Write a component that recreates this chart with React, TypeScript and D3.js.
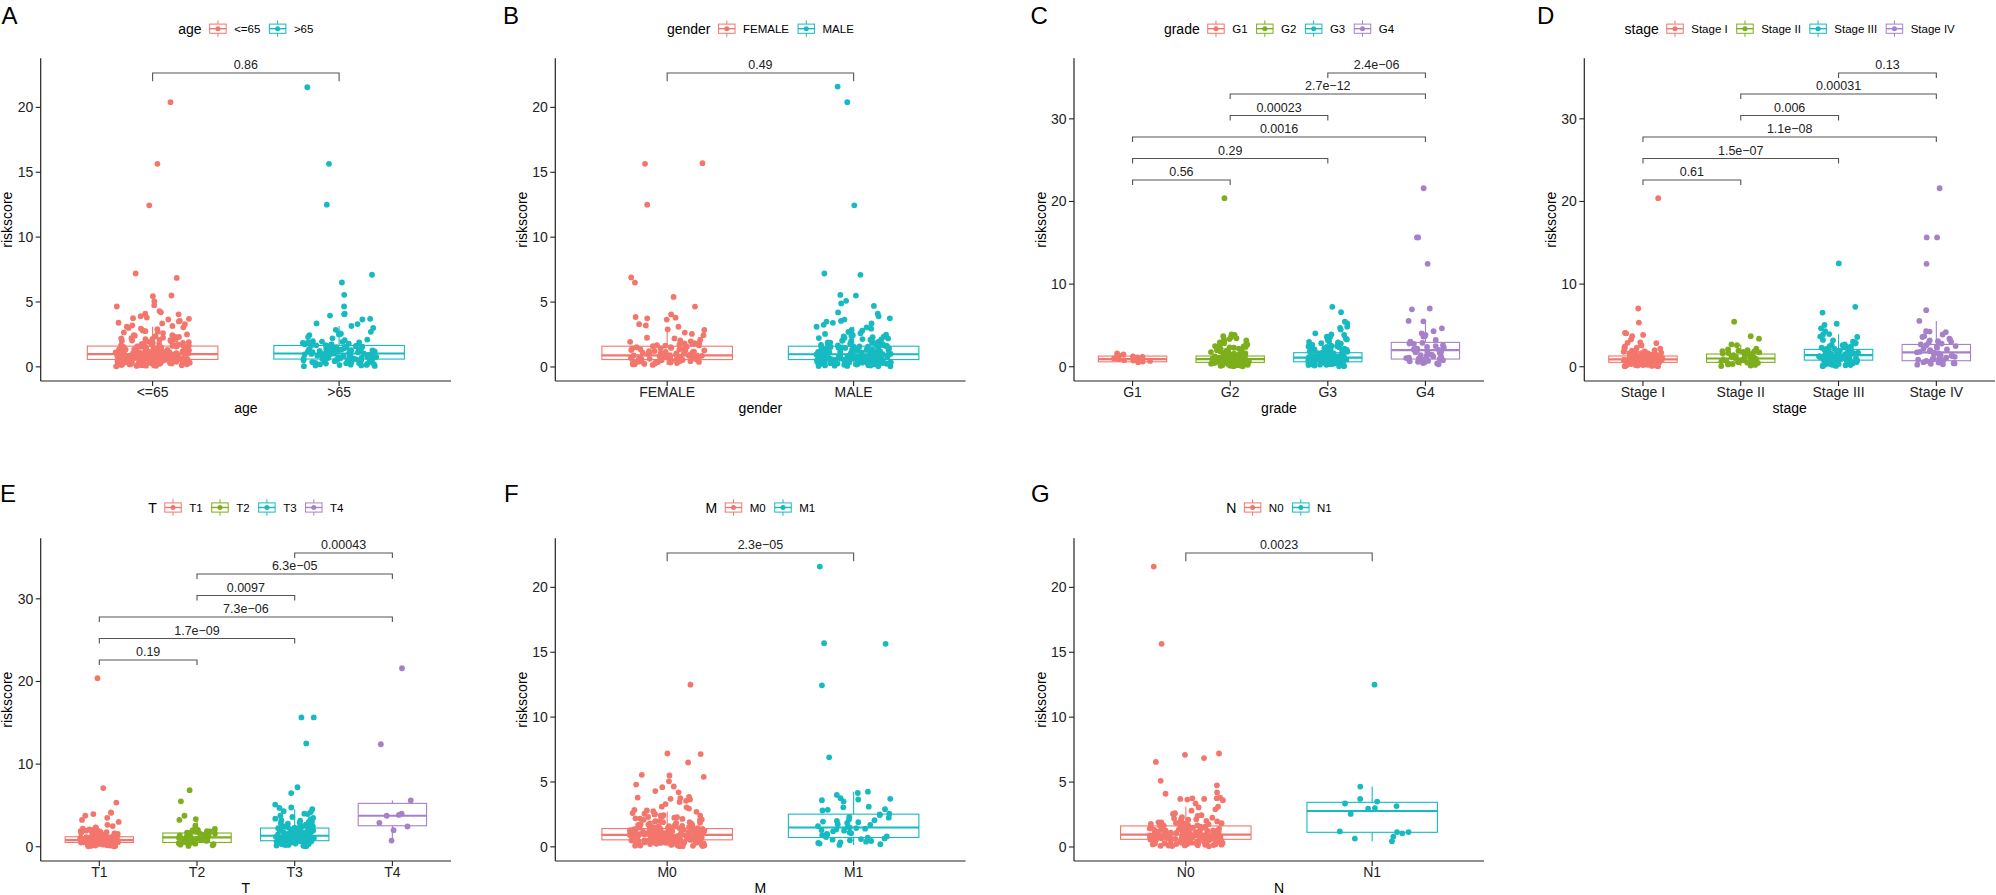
import React, { useEffect } from "react";
import * as d3 from "d3";

// ---------------- colours ----------------
const RED = "#F3766C";
const GREEN = "#7DAE1C";
const TEAL = "#16BAC0";
const PURPLE = "#A681CA";
const twoColors = [RED, TEAL];
const fourColors = [RED, GREEN, TEAL, PURPLE];

// ---------------- data ----------------
// A: age
const ageCategories = ["<=65", ">65"];
const ageLe65 = [20.4,15.65,12.45,7.2,6.85,5.5,5.45,5.05,4.75,4.65,4.3,4.2,4.1,4.05,3.9,3.8,3.75,3.7,3.65,3.55,3.5,3.4,3.35,3.3,3.2,3.15,3.1,3.05,3.0,2.95,2.9,2.8,2.75,2.7,2.65,2.6,2.5,2.45,2.4,2.35,2.3,2.25,2.2,2.15,2.1,2.05,2.0,1.95,1.9,1.85,1.8,1.75,1.7,1.65,1.62,
  1.58,1.55,1.49,1.47,1.46,1.41,1.39,1.36,1.33,1.31,1.28,1.27,1.24,1.21,1.19,1.18,1.14,1.12,1.11,1.08,1.06,1.05,1.02,1.0,0.99,0.97,0.96,0.93,0.92,0.91,0.88,0.87,0.85,0.84,0.82,0.8,0.79,0.77,0.76,0.74,0.73,0.71,0.7,0.68,0.67,0.66,0.64,0.63,0.61,0.6,0.58,0.57,0.55,0.54,0.52,0.51,0.49,0.47,0.46,0.44,0.43,0.41,0.39,0.37,0.36,0.34,0.32,0.3,0.29,0.27,0.25,0.23,0.21,0.19,0.16,0.14,0.12,0.09,0.07,0.04,
  0.06,0.08,0.11,0.13,0.15,0.17,0.18,0.2,0.22,0.24,0.26,0.27,0.28,0.29,0.31,0.32,0.33,0.35,0.36,0.38,0.4,0.41,0.42,0.44,0.45,0.47,0.48,0.5,0.51,0.52,0.53,0.55,0.56,0.58,0.59,
  0.61,0.62,0.64,0.65,0.66,0.68,0.69,0.7,0.72,0.73,0.75,0.76,0.78,0.79,0.81,0.82,0.83,0.85,0.86,0.88,0.89,0.9,0.92,0.94,0.95,0.97,0.98,
  1.01,1.03,1.04,1.07,1.09,1.1,1.13,1.15,1.17,1.2,1.22,1.25,1.27,1.3,1.34,1.37,1.4,1.43,1.45,1.48,1.51,1.53,1.57,1.61,1.64,1.68,1.72,1.77,1.81,1.86,1.92,1.97,2.03,2.08,2.14,2.21,2.28,2.36,2.44];
const ageGt65 = [21.55,15.65,12.5,7.1,6.5,5.55,4.65,4.1,4.05,3.95,3.7,3.65,3.35,3.3,3.15,3.0,2.85,2.7,2.6,2.55,2.5,2.45,2.3,2.2,2.1,2.05,1.98,1.93,1.88,1.84,1.79,1.75,1.71,1.66,1.62,1.59,1.55,1.51,1.48,1.44,1.4,1.37,1.33,1.3,1.26,1.22,1.19,1.15,1.12,1.09,1.06,1.03,1.0,0.97,0.94,0.91,0.88,0.86,0.83,0.8,0.78,0.75,0.72,0.7,0.67,0.65,0.62,0.6,0.57,0.54,0.51,0.48,0.45,0.42,0.38,0.35,0.31,0.27,0.23,0.19,0.15,0.1,0.05,
  0.07,0.11,0.14,0.17,0.21,0.25,0.29,0.33,0.37,0.4,0.44,0.47,0.5,0.53,0.56,0.59,0.63,0.66,0.69,0.73,0.76,0.79,0.82,0.85,0.89,0.92,0.96,0.99,1.02,1.05,1.08,1.11,1.14,1.17,1.21,1.24,1.28,1.32,1.36,1.41,1.45,1.5,1.54,1.58,1.63,1.68,1.73,1.8,1.87,1.95];
const ageQ1 = [0.57, 0.6];
const ageMedian = [0.98, 1.03];
const ageQ3 = [1.6, 1.65];
const ageWhiskerLow = [0.04, 0.05];
const ageWhiskerHigh = [3.1, 3.15];
const agePValues = ["0.86"];
const ageBracketY = [22.65];

// B: gender
const genderCategories = ["FEMALE", "MALE"];
const genderFemale = [15.7,15.65,12.5,6.9,6.5,5.4,4.65,4.05,3.85,3.8,3.75,3.65,3.3,3.2,3.1,2.9,2.85,2.65,2.55,2.45,2.25,2.2,2.1,2.04,1.98,1.94,1.88,1.83,1.78,1.73,1.69,1.64,1.6,1.56,1.52,1.47,1.43,1.39,1.35,1.31,1.27,1.23,1.19,1.15,1.11,1.07,1.03,0.99,0.96,0.93,0.9,0.87,0.84,0.81,0.78,0.75,0.72,0.69,0.66,0.63,0.6,0.57,0.54,0.51,0.48,0.45,0.42,0.39,0.36,0.33,0.3,0.27,0.24,0.2,0.16,
  0.22,0.26,0.31,0.35,0.38,0.41,0.44,0.47,0.5,0.53,0.56,0.59,0.62,0.65,0.68,0.71,0.74,0.77,0.8,0.83,0.86,0.89,0.92,0.95,1.0,1.05,1.1,1.16,1.22,1.29,1.36,1.44,1.53,1.66,1.82];
const genderMale = [21.6,20.4,12.45,7.2,7.1,5.55,5.5,5.1,4.9,4.7,4.2,4.1,3.9,3.75,3.65,3.55,3.5,3.4,3.35,3.25,3.1,3.05,2.95,2.85,2.8,2.7,2.6,2.55,2.5,2.4,2.35,2.3,2.25,2.2,2.15,2.1,2.05,2.0,1.95,1.9,1.86,1.82,1.78,1.74,1.7,1.66,1.62,
  1.59,1.56,1.52,1.5,1.46,1.43,1.4,1.38,1.35,1.32,1.29,1.26,1.23,1.21,1.18,1.16,1.13,1.1,1.08,1.05,1.03,1.01,0.98,0.96,0.94,0.92,0.9,0.88,0.86,0.84,0.82,0.8,0.78,0.76,0.75,0.73,0.71,0.69,0.68,0.66,0.64,0.62,0.61,0.59,0.57,0.56,0.54,0.52,0.5,0.48,0.46,0.44,0.42,0.4,0.38,0.36,0.33,0.31,0.28,0.26,0.23,0.2,0.17,0.14,0.11,0.08,0.05,
  0.05,0.07,0.1,0.12,0.14,0.16,0.19,0.21,0.23,0.25,0.27,0.29,0.3,0.32,0.34,0.35,0.37,0.39,0.41,0.43,0.45,0.46,0.47,0.49,0.51,0.53,0.54,0.55,0.57,0.58,0.6,0.62,0.63,0.65,0.67,0.68,0.7,0.71,0.73,0.74,0.76,0.77,0.79,0.81,0.83,0.84,0.86,0.87,0.89,0.91,0.93,0.95,0.96,0.98,0.99,1.02,1.04,1.06,1.09,1.11,1.12,1.14,1.17,1.19,1.22,1.24,1.27,1.3,1.33,1.36,1.39,1.42,1.44,1.47,1.51,1.54,1.58,1.63,1.67,1.71,1.76,1.83,1.88,1.93,2.02,2.12,2.23,2.33,2.45];
const genderQ1 = [0.57, 0.57];
const genderMedian = [0.9, 0.98];
const genderQ3 = [1.6, 1.6];
const genderWhiskerLow = [0.16, 0.05];
const genderWhiskerHigh = [3.1, 3.1];
const genderPValues = ["0.49"];
const genderBracketY = [22.65];

// C: grade
const gradeCategories = ["G1", "G2", "G3", "G4"];
const gradeG1 = [1.6,1.5,1.35,1.25,1.2,1.12,1.05,1.0,0.96,0.92,0.88,0.84,0.8,0.75,0.7,0.62,0.55];
const gradeG2 = [20.4,3.9,3.85,3.7,3.6,3.45,3.35,3.3,3.2,3.1,2.95,2.85,2.8,2.7,2.6,2.5,2.45,2.4,2.35,2.3,2.2,2.15,2.1,2.0,1.95,1.9,1.85,1.8,1.72,1.66,1.6,1.55,1.5,1.45,1.4,1.36,1.32,1.28,1.25,1.21,1.18,1.15,1.12,1.09,1.06,1.03,1.0,0.97,0.95,0.92,0.9,0.87,0.85,0.82,0.8,0.77,0.75,0.72,0.7,0.67,0.65,0.62,0.6,0.57,0.55,0.52,0.5,0.47,0.44,0.41,0.38,0.35,0.32,0.28,0.25,0.21,0.17,0.13,0.09,0.05,
  0.07,0.11,0.15,0.19,0.23,0.27,0.3,0.34,0.37,0.4,0.43,0.46,0.49,0.51,0.54,0.56,0.59,0.61,0.64,0.66,0.69,0.71,0.74,0.76,0.79,0.81,0.84,0.86,0.89,0.93,0.96,1.01,1.05,1.1,1.16,1.23,1.31,1.42,1.58,1.77];
const gradeG3 = [7.25,6.6,5.45,5.25,4.85,4.7,4.5,4.05,3.9,3.85,3.65,3.6,3.45,3.4,3.3,3.2,3.1,3.0,2.95,2.85,2.8,2.7,2.65,2.55,2.5,2.45,2.4,2.3,2.25,2.2,2.1,2.05,2.0,1.95,1.9,1.85,1.8,1.75,1.7,1.65,1.6,1.55,1.5,1.46,1.42,1.38,1.34,1.3,1.26,1.22,1.18,1.14,1.1,1.06,1.02,0.98,0.94,0.9,0.86,0.82,0.78,0.74,0.7,0.66,0.62,0.58,0.54,0.5,0.46,0.42,0.38,0.33,0.28,0.23,0.18,0.12,0.06,
  0.09,0.15,0.2,0.25,0.31,0.36,0.4,0.44,0.48,0.52,0.56,0.6,0.64,0.68,0.72,0.76,0.8,0.84,0.88,0.92,0.96,1.0,1.04,1.08,1.12,1.16,1.2,1.24,1.29,1.34,1.39,1.45,1.52,1.59,1.68,1.78,1.9,2.04,2.18,2.35];
const gradeG4 = [21.6,15.65,15.65,12.45,7.05,6.95,5.55,5.5,4.65,4.3,4.05,3.85,3.7,3.65,3.25,3.05,2.9,2.8,2.75,2.6,2.5,2.4,2.3,2.2,2.1,2.05,2.0,1.95,1.9,1.8,1.75,1.7,1.6,1.5,1.45,1.4,1.3,1.25,1.2,1.1,1.05,1.0,0.95,0.9,0.85,0.8,0.7,0.65,0.6,0.5,0.45,0.4,0.3];
const gradeQ1 = [0.6, 0.53, 0.6, 0.93];
const gradeMedian = [0.93, 0.93, 1.1, 2.0];
const gradeQ3 = [1.29, 1.3, 1.7, 2.95];
const gradeWhiskerLow = [0.55, 0.05, 0.06, 0.3];
const gradeWhiskerHigh = [1.6, 2.45, 3.3, 5.55];
const gradePValues = ["0.56", "0.29", "0.0016", "0.00023", "2.7e\u221212", "2.4e\u221206"];
const gradeBracketY = [22.6, 25.2, 27.8, 30.4, 33.0, 35.55];

// D: stage
const stageCategories = ["Stage I", "Stage II", "Stage III", "Stage IV"];
const stageI = [20.4,7.05,5.35,4.1,4.05,3.85,3.7,3.3,2.95,2.9,2.85,2.6,2.45,2.35,2.3,2.2,2.1,2.0,1.95,1.9,1.85,1.8,1.7,1.65,1.6,1.55,1.5,1.45,1.4,1.35,1.31,1.27,1.24,1.2,1.17,1.14,1.11,1.08,1.05,1.02,0.99,0.96,0.93,0.9,0.88,0.85,0.83,0.8,0.78,0.75,0.73,0.7,0.68,0.65,0.63,0.6,0.58,0.55,0.53,0.5,0.47,0.44,0.41,0.38,0.35,0.31,0.27,0.23,0.19,0.15,0.1,0.05,
  0.06,0.09,0.13,0.17,0.21,0.25,0.29,0.32,0.36,0.39,0.42,0.45,0.48,0.51,0.54,0.57,0.6,0.62,0.64,0.67,0.69,0.72,0.74,0.77,0.79,0.82,0.84,0.87,0.91,0.95,0.99,1.04,1.09,1.15,1.22,1.29,1.38,1.49,1.63,1.84];
const stageII = [5.45,3.7,3.4,2.7,2.6,2.2,2.1,2.0,1.95,1.9,1.85,1.8,1.75,1.7,1.65,1.6,1.55,1.5,1.45,1.4,1.34,1.28,1.22,1.17,1.12,1.07,1.02,0.98,0.94,0.9,0.86,0.82,0.78,0.74,0.7,0.66,0.62,0.58,0.54,0.5,0.46,0.42,0.38,0.33,0.28,0.22,0.15,0.08];
const stageIII = [12.5,7.25,6.55,5.2,5.05,4.65,4.3,3.95,3.9,3.65,3.6,3.25,3.2,3.05,3.0,2.9,2.8,2.7,2.65,2.6,2.5,2.45,2.4,2.35,2.3,2.2,2.15,2.1,2.05,2.0,1.94,1.88,1.82,1.76,1.7,1.64,1.58,1.53,1.48,1.43,1.38,1.33,1.28,1.23,1.18,1.13,1.08,1.03,0.98,0.93,0.88,0.83,0.79,0.75,0.71,0.67,0.63,0.59,0.55,0.51,0.47,0.42,0.37,0.32,0.26,0.2,0.13,0.07,
  0.1,0.17,0.22,0.3,0.34,0.41,0.44,0.51,0.56,0.6,0.66,0.69,0.76,0.81,0.84,0.91,0.94,1.01,1.07,1.11,1.19,1.24,1.33,1.39,1.49,1.56,1.68,1.77,1.91,2.04];
const stageIV = [21.6,15.65,15.65,12.45,6.85,5.55,4.3,4.25,4.2,3.9,3.7,3.6,3.4,3.3,3.2,3.1,3.0,2.9,2.8,2.7,2.6,2.5,2.4,2.3,2.2,2.1,2.0,1.9,1.8,1.75,1.7,1.6,1.5,1.4,1.35,1.3,1.2,1.1,1.0,0.95,0.9,0.85,0.8,0.75,0.7,0.6,0.55,0.5,0.45,0.4,0.35,0.3,0.25];
const stageQ1 = [0.53, 0.53, 0.8, 0.73];
const stageMedian = [0.9, 1.0, 1.4, 1.74];
const stageQ3 = [1.3, 1.54, 2.1, 2.7];
const stageWhiskerLow = [0.05, 0.08, 0.07, 0.25];
const stageWhiskerHigh = [2.45, 2.7, 3.95, 5.55];
const stagePValues = ["0.61", "1.5e\u221207", "1.1e\u221208", "0.006", "0.00031", "0.13"];
const stageBracketY = [22.6, 25.2, 27.8, 30.4, 33.0, 35.55];

// E: T
const tCategories = ["T1", "T2", "T3", "T4"];
const tT1 = [20.4,7.1,5.35,4.15,4.1,3.95,3.75,3.5,3.25,3.0,2.65,2.5,2.35,2.3,2.2,2.1,2.0,1.95,1.9,1.85,1.8,1.7,1.65,1.6,1.55,1.5,1.45,1.4,1.35,1.3,1.25,1.21,1.17,1.13,1.1,1.06,1.03,1.0,0.97,0.94,0.91,0.88,0.85,0.82,0.8,0.77,0.75,0.72,0.7,0.67,0.65,0.62,0.6,0.57,0.55,0.52,0.5,0.47,0.44,0.41,0.38,0.35,0.31,0.27,0.23,0.19,0.14,0.09,0.05,
  0.06,0.1,0.13,0.17,0.2,0.24,0.28,0.31,0.34,0.37,0.4,0.43,0.46,0.48,0.51,0.53,0.56,0.58,0.61,0.63,0.66,0.68,0.71,0.73,0.76,0.78,0.81,0.83,0.86,0.89,0.92,0.95,0.99,1.02,1.06,1.11,1.15,1.2,1.26,1.33,1.41,1.5,1.61,1.76,1.93];
const tT2 = [6.85,5.5,3.75,3.35,3.25,2.55,2.15,2.05,2.0,1.95,1.9,1.85,1.8,1.75,1.7,1.65,1.6,1.55,1.5,1.44,1.38,1.32,1.27,1.22,1.17,1.12,1.07,1.02,0.97,0.92,0.87,0.82,0.77,0.72,0.67,0.62,0.57,0.52,0.47,0.42,0.37,0.31,0.25,0.18,0.1];
const tT3 = [15.65,15.65,12.5,7.2,6.5,5.1,4.75,4.7,4.55,4.3,4.2,4.0,3.95,3.75,3.6,3.5,3.4,3.3,3.2,3.15,3.05,3.0,2.9,2.85,2.8,2.7,2.65,2.6,2.5,2.45,2.4,2.35,2.3,2.25,2.19,2.13,2.07,2.01,1.95,1.89,1.83,1.77,1.71,1.65,1.6,1.55,1.5,1.45,1.4,1.35,1.3,1.25,1.2,1.15,1.1,1.05,1.0,0.96,0.92,0.88,0.84,0.8,0.76,0.72,0.68,0.64,0.6,0.56,0.52,0.48,0.43,0.38,0.33,0.27,0.21,0.14,0.07,
  0.09,0.16,0.22,0.29,0.34,0.4,0.45,0.5,0.54,0.58,0.62,0.66,0.7,0.74,0.78,0.82,0.86,0.9,0.94,0.98,1.03,1.08,1.13,1.18,1.23,1.28,1.34,1.4,1.47,1.54,1.62,1.7,1.79,1.88,1.98,2.09,2.2,2.33,2.48,2.63];
const tT4 = [21.6,12.4,5.6,4.0,3.85,3.75,2.9,2.45,2.0,0.75];
const tQ1 = [0.52, 0.52, 0.73, 2.54];
const tMedian = [0.8, 1.13, 1.33, 3.75];
const tQ3 = [1.21, 1.66, 2.26, 5.25];
const tWhiskerLow = [0.05, 0.1, 0.07, 0.75];
const tWhiskerHigh = [2.2, 3.35, 4.55, 5.6];
const tPValues = ["0.19", "1.7e\u221209", "7.3e\u221206", "0.0097", "6.3e\u221205", "0.00043"];
const tBracketY = [22.6, 25.2, 27.8, 30.4, 33.0, 35.55];

// F: M
const mCategories = ["M0", "M1"];
const mM0 = [12.5,7.2,7.15,6.5,5.55,5.5,5.4,5.05,4.8,4.65,4.6,4.3,4.2,3.85,3.8,3.75,3.7,3.65,3.55,3.45,3.3,3.1,3.05,2.95,2.85,2.8,2.75,2.7,2.6,2.55,2.5,2.45,2.4,2.35,2.3,2.25,2.2,2.15,2.1,2.05,2.0,1.95,1.9,1.85,1.8,1.75,1.7,1.65,1.6,1.55,1.5,1.45,1.42,
  1.39,1.37,1.34,1.32,1.29,1.27,1.24,1.22,1.2,1.17,1.15,1.13,1.1,1.08,1.06,1.04,1.01,0.99,0.97,0.95,0.93,0.91,0.89,0.87,0.85,0.83,0.81,0.79,0.77,0.75,0.73,0.71,0.69,0.67,0.65,0.63,0.61,0.59,0.57,0.55,0.53,0.51,0.49,0.47,0.45,0.43,0.41,0.39,0.37,0.35,0.33,0.31,0.29,0.26,0.24,0.21,0.18,0.15,0.12,0.09,0.06,0.04,
  0.05,0.08,0.1,0.13,0.16,0.19,0.22,0.25,0.27,0.3,0.32,0.34,0.36,0.38,0.4,0.42,0.44,0.46,0.48,0.49,0.5,0.52,0.54,0.56,0.58,0.6,0.62,0.64,0.66,0.68,0.7,0.72,0.74,0.76,0.78,0.8,0.82,0.84,0.86,0.88,0.9,0.92,0.94,0.96,0.98,1.0,1.03,1.05,1.07,1.09,1.12,1.14,1.16,1.19,1.21,1.23,1.26,1.28,1.31,1.33,1.36,1.38,1.41,1.44,1.47,1.51,1.54,1.58,1.62,1.67,1.72,1.78,1.84,1.91,1.99,2.08,2.18,2.29,2.41,2.53];
const mM1 = [21.6,15.7,15.65,12.45,6.9,4.25,4.15,4.0,3.75,3.7,3.65,3.6,3.5,3.1,3.05,2.9,2.85,2.8,2.55,2.5,2.45,2.3,2.25,2.1,2.05,2.0,1.95,1.9,1.85,1.75,1.7,1.6,1.55,1.5,1.45,1.4,1.35,1.3,1.25,1.2,1.1,1.05,1.0,0.95,0.9,0.85,0.8,0.75,0.7,0.65,0.6,0.55,0.5,0.45,0.4,0.35,0.3,0.25,0.2,0.15];
const mQ1 = [0.54, 0.72];
const mMedian = [0.93, 1.49];
const mQ3 = [1.41, 2.52];
const mWhiskerLow = [0.04, 0.15];
const mWhiskerHigh = [2.7, 4.25];
const mPValues = ["2.3e\u221205"];
const mBracketY = [22.65];

// G: N
const nCategories = ["N0", "N1"];
const nN0 = [21.6,15.65,7.2,7.1,6.85,6.55,5.1,4.75,4.2,4.1,3.8,3.75,3.75,3.7,3.7,3.65,3.6,3.35,3.1,3.05,2.9,2.8,2.6,2.55,2.45,2.4,2.3,2.25,2.2,2.15,2.1,2.0,1.95,1.9,1.85,1.8,1.75,1.7,1.65,1.6,
  1.57,1.54,1.51,1.48,1.45,1.42,1.39,1.36,1.33,1.3,1.28,1.25,1.22,1.2,1.17,1.15,1.12,1.1,1.08,1.05,1.03,1.01,0.99,0.97,0.95,0.93,0.91,0.89,0.87,0.85,0.83,0.81,0.79,0.77,0.75,0.73,0.71,0.69,0.67,0.65,0.63,0.61,0.59,0.57,0.55,0.53,0.51,0.49,0.47,0.45,0.43,0.41,0.39,0.37,0.35,0.33,0.31,0.29,0.27,0.25,0.23,0.21,0.18,0.15,0.12,0.09,0.05,
  0.07,0.11,0.14,0.17,0.2,0.23,0.26,0.28,0.31,0.33,0.35,0.37,0.39,0.41,0.43,0.45,0.47,0.49,0.51,0.53,0.55,0.57,0.59,0.61,0.63,0.65,0.67,0.69,0.71,0.73,0.75,0.77,0.79,0.81,0.83,0.85,0.87,0.89,0.91,0.93,0.95,0.97,1.0,1.02,1.04,1.07,1.09,1.11,1.14,1.16,1.19,1.21,1.24,1.27,1.3,1.33,1.36,1.39,1.43,1.46,1.5,1.53,1.57,1.61,1.66,1.71,1.77,1.83,1.9,1.97,2.05,2.14];
const nN1 = [12.5,4.65,3.7,3.5,3.35,3.15,3.0,2.95,2.55,1.2,1.15,1.15,1.05,0.8,0.65,0.45];
const nQ1 = [0.59, 1.13];
const nMedian = [0.95, 2.77];
const nQ3 = [1.62, 3.44];
const nWhiskerLow = [0.05, 0.45];
const nWhiskerHigh = [3.1, 4.65];
const nPValues = ["0.0023"];
const nBracketY = [22.65];

const twoComparisons: [number, number][] = [[0, 1]];
const fourComparisons: [number, number][] = [[0, 1], [0, 2], [0, 3], [1, 2], [1, 3], [2, 3]];
const twoTicks = [0, 5, 10, 15, 20];
const fourTicks = [0, 10, 20, 30];

// ---------------- layout ----------------
const FONT = '"Liberation Sans", Arial, Helvetica, sans-serif';
const TOP_ROW = { top: 58.3, bottom: 381, legendY: 28.7, letterY: 24 };
const BOT_ROW = { top: 538.3, bottom: 861, legendY: 507.5, letterY: 501.5 };

type PanelDef = {
  letter: string; letterX: number; title: string; cats: string[]; groups: number[][];
  q1: number[]; med: number[]; q3: number[]; wlo: number[]; whi: number[];
  comps: [number, number][]; pvals: string[]; bracketY: number[]; colors: string[];
  ticks: number[]; left: number; right: number; row: typeof TOP_ROW; tip: number;
};

const panels: PanelDef[] = [
  { letter: "A", letterX: 1.5, title: "age", cats: ageCategories, groups: [ageLe65, ageGt65], q1: ageQ1, med: ageMedian, q3: ageQ3, wlo: ageWhiskerLow, whi: ageWhiskerHigh, comps: twoComparisons, pvals: agePValues, bracketY: ageBracketY, colors: twoColors, ticks: twoTicks, left: 40.7, right: 451, row: TOP_ROW, tip: 8.3 },
  { letter: "B", letterX: 503, title: "gender", cats: genderCategories, groups: [genderFemale, genderMale], q1: genderQ1, med: genderMedian, q3: genderQ3, wlo: genderWhiskerLow, whi: genderWhiskerHigh, comps: twoComparisons, pvals: genderPValues, bracketY: genderBracketY, colors: twoColors, ticks: twoTicks, left: 555.3, right: 965.5, row: TOP_ROW, tip: 8.3 },
  { letter: "C", letterX: 1030.5, title: "grade", cats: gradeCategories, groups: [gradeG1, gradeG2, gradeG3, gradeG4], q1: gradeQ1, med: gradeMedian, q3: gradeQ3, wlo: gradeWhiskerLow, whi: gradeWhiskerHigh, comps: fourComparisons, pvals: gradePValues, bracketY: gradeBracketY, colors: fourColors, ticks: fourTicks, left: 1074, right: 1484, row: TOP_ROW, tip: 5 },
  { letter: "D", letterX: 1537, title: "stage", cats: stageCategories, groups: [stageI, stageII, stageIII, stageIV], q1: stageQ1, med: stageMedian, q3: stageQ3, wlo: stageWhiskerLow, whi: stageWhiskerHigh, comps: fourComparisons, pvals: stagePValues, bracketY: stageBracketY, colors: fourColors, ticks: fourTicks, left: 1584.3, right: 1995, row: TOP_ROW, tip: 5 },
  { letter: "E", letterX: 0, title: "T", cats: tCategories, groups: [tT1, tT2, tT3, tT4], q1: tQ1, med: tMedian, q3: tQ3, wlo: tWhiskerLow, whi: tWhiskerHigh, comps: fourComparisons, pvals: tPValues, bracketY: tBracketY, colors: fourColors, ticks: fourTicks, left: 40.7, right: 451, row: BOT_ROW, tip: 5 },
  { letter: "F", letterX: 504, title: "M", cats: mCategories, groups: [mM0, mM1], q1: mQ1, med: mMedian, q3: mQ3, wlo: mWhiskerLow, whi: mWhiskerHigh, comps: twoComparisons, pvals: mPValues, bracketY: mBracketY, colors: twoColors, ticks: twoTicks, left: 555.3, right: 965.5, row: BOT_ROW, tip: 8.3 },
  { letter: "G", letterX: 1031, title: "N", cats: nCategories, groups: [nN0, nN1], q1: nQ1, med: nMedian, q3: nQ3, wlo: nWhiskerLow, whi: nWhiskerHigh, comps: twoComparisons, pvals: nPValues, bracketY: nBracketY, colors: twoColors, ticks: twoTicks, left: 1074, right: 1484, row: BOT_ROW, tip: 8.3 },
];

let measureCtx: CanvasRenderingContext2D | null = null;
function textWidth(s: string, size: number): number {
  if (!measureCtx && typeof document !== "undefined") {
    measureCtx = document.createElement("canvas").getContext("2d");
  }
  if (!measureCtx) return s.length * size * 0.55;
  measureCtx.font = `${size}px "Liberation Sans"`;
  return measureCtx.measureText(s).width;
}

// deterministic horizontal jitter in [-0.5, 0.5)
function jitterUnit(i: number, seed: number): number {
  const s = Math.sin((i + 1) * 12.9898 + seed * 78.233) * 43758.5453;
  return s - Math.floor(s) - 0.5;
}

function Panel({ p, index }: { p: PanelDef; index: number }) {
  const { top, bottom, legendY, letterY } = p.row;
  const all = p.groups.flat();
  const lo = d3.min(all) as number;
  const hi = d3.max(p.bracketY) as number;
  const span = hi - lo;
  const y = d3.scaleLinear().domain([lo - 0.05 * span, hi + 0.05 * span]).range([bottom, top]);
  const x = d3.scalePoint<string>().domain(p.cats).range([p.left, p.right]).padding(0.6);
  const step = x.step();
  const bw = 0.7 * step;
  const cx = (i: number) => x(p.cats[i]) as number;

  // legend layout
  const keyW = 16.5;
  const titleW = textWidth(p.title, 14);
  const labelW = p.cats.map((c) => textWidth(c, 11.5));
  const total = titleW + 8 + d3.sum(labelW.map((w) => keyW + 8 + w)) + 9 * (p.cats.length - 1);
  let lx = (p.left + p.right) / 2 - total / 2;
  const legendItems: { kx: number; tx: number }[] = [];
  const titleX = lx;
  lx += titleW + 8;
  labelW.forEach((w) => {
    legendItems.push({ kx: lx, tx: lx + keyW + 8 });
    lx += keyW + 8 + w + 9;
  });

  return (
    <g>
      {/* panel letter */}
      <text x={p.letterX} y={letterY} fontFamily={FONT} fontSize={24} fill="#000">{p.letter}</text>

      {/* legend */}
      <text x={titleX} y={legendY + 5} fontFamily={FONT} fontSize={14} fill="#000">{p.title}</text>
      {legendItems.map((it, i) => {
        const c = p.colors[i];
        const kc = it.kx + keyW / 2;
        return (
          <g key={"lg" + i}>
            <line x1={kc} x2={kc} y1={legendY - 8.2} y2={legendY + 8.2} stroke={c} strokeWidth={1} />
            <rect x={it.kx} y={legendY - 4.6} width={keyW} height={9.2} fill="#fff" stroke={c} strokeWidth={1} />
            <line x1={it.kx} x2={it.kx + keyW} y1={legendY} y2={legendY} stroke={c} strokeWidth={1.4} />
            <circle cx={kc} cy={legendY} r={2.5} fill={c} />
            <text x={it.tx} y={legendY + 4.1} fontFamily={FONT} fontSize={11.5} fill="#000">{p.cats[i]}</text>
          </g>
        );
      })}

      {/* boxes */}
      {p.cats.map((_, i) => {
        const c = p.colors[i];
        const xc = cx(i);
        return (
          <g key={"bx" + i}>
            <line x1={xc} x2={xc} y1={y(p.q3[i])} y2={y(p.whi[i])} stroke={c} strokeWidth={1.1} />
            <line x1={xc} x2={xc} y1={y(p.q1[i])} y2={y(p.wlo[i])} stroke={c} strokeWidth={1.1} />
            <rect x={xc - bw / 2} y={y(p.q3[i])} width={bw} height={y(p.q1[i]) - y(p.q3[i])} fill="#fff" stroke={c} strokeWidth={1.1} />
            <line x1={xc - bw / 2} x2={xc + bw / 2} y1={y(p.med[i])} y2={y(p.med[i])} stroke={c} strokeWidth={2.2} />
          </g>
        );
      })}

      {/* jittered points */}
      {p.groups.map((vals, gi) => (
        <g key={"pt" + gi} fill={p.colors[gi]}>
          {vals.map((v, vi) => (
            <circle key={vi} cx={cx(gi) + jitterUnit(vi, index * 7 + gi + 1) * 0.4 * step} cy={y(v)} r={2.9} />
          ))}
        </g>
      ))}

      {/* significance brackets */}
      {p.comps.map(([a, b], k) => {
        const yy = y(p.bracketY[k]);
        const x1 = cx(a), x2 = cx(b);
        return (
          <g key={"br" + k}>
            <path d={`M${x1},${yy + p.tip}L${x1},${yy}L${x2},${yy}L${x2},${yy + p.tip}`} fill="none" stroke="#555" strokeWidth={1.1} />
            <text x={(x1 + x2) / 2} y={yy - 3.6} textAnchor="middle" fontFamily={FONT} fontSize={12.5} fill="#222">{p.pvals[k]}</text>
          </g>
        );
      })}

      {/* y axis */}
      <line x1={p.left} x2={p.left} y1={top} y2={bottom} stroke="#222" strokeWidth={1.2} />
      {p.ticks.map((t) => (
        <g key={"yt" + t}>
          <line x1={p.left - 5} x2={p.left} y1={y(t)} y2={y(t)} stroke="#222" strokeWidth={1.1} />
          <text x={p.left - 7.4} y={y(t) + 5} textAnchor="end" fontFamily={FONT} fontSize={14} fill="#222">{t}</text>
        </g>
      ))}
      <text transform={`translate(${p.left - 28.4},${(top + bottom) / 2}) rotate(-90)`} textAnchor="middle" fontFamily={FONT} fontSize={14} fill="#000">riskscore</text>

      {/* x axis */}
      <line x1={p.left} x2={p.right} y1={bottom} y2={bottom} stroke="#222" strokeWidth={1.2} />
      {p.cats.map((c, i) => (
        <g key={"xt" + i}>
          <line x1={cx(i)} x2={cx(i)} y1={bottom} y2={bottom + 5} stroke="#222" strokeWidth={1.1} />
          <text x={cx(i)} y={bottom + 16.3} textAnchor="middle" fontFamily={FONT} fontSize={14} fill="#222">{c}</text>
        </g>
      ))}
      <text x={(p.left + p.right) / 2} y={bottom + 32.3} textAnchor="middle" fontFamily={FONT} fontSize={14} fill="#000">{p.title}</text>
    </g>
  );
}

export default function App() {
  useEffect(() => {
    document.body.style.margin = "0";
    document.body.style.overflow = "hidden";
  }, []);
  return (
    <svg width={1996} height={895} viewBox="0 0 1996 895" style={{ display: "block", background: "#fff" }}>
      <rect x={0} y={0} width={1996} height={895} fill="#fff" />
      {panels.map((p, i) => (
        <Panel key={p.letter} p={p} index={i} />
      ))}
    </svg>
  );
}
